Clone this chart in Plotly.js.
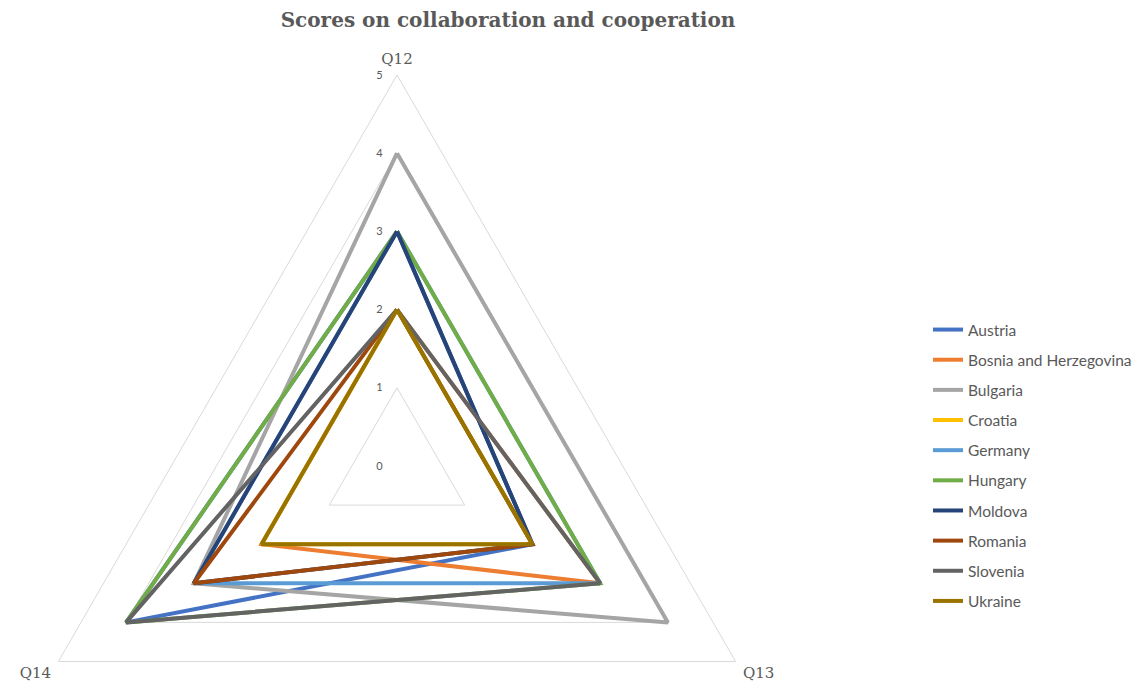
<!DOCTYPE html>
<html>
<head>
<meta charset="utf-8">
<script src="https://cdn.plot.ly/plotly-3.0.1.min.js"></script>
<style>
  html, body { margin: 0; padding: 0; background: #ffffff; overflow: hidden; }
  #chart { width: 1143px; height: 900px; }
</style>
</head>
<body>
<div id="chart"></div>
<script>
// Radar axes (questions), clockwise from the top
const questions = ['Q12', 'Q13', 'Q14'];

// Country names, in legend order
const countries = ['Austria', 'Bosnia and Herzegovina', 'Bulgaria', 'Croatia', 'Germany',
                   'Hungary', 'Moldova', 'Romania', 'Slovenia', 'Ukraine'];

// Scores per country for Q12, Q13, Q14
const austria   = [3, 2, 4];
const bosnia    = [2, 3, 2];
const bulgaria  = [4, 4, 3];
const croatia   = [2, 2, 2];
const germany   = [3, 3, 3];
const hungary   = [3, 3, 4];
const moldova   = [3, 2, 3];
const romania   = [2, 2, 3];
const slovenia  = [2, 3, 4];
const ukraine   = [2, 2, 2];

const scores = [austria, bosnia, bulgaria, croatia, germany,
                hungary, moldova, romania, slovenia, ukraine];

// Office palette
const colors = ['#4472C4', '#ED7D31', '#A5A5A5', '#FFC000', '#5B9BD5',
                '#70AD47', '#264478', '#9E480E', '#636363', '#997300'];

// Radial scale ticks
const radialTicks = [0, 1, 2, 3, 4, 5];

const FIG_W = 1143, FIG_H = 900;
const textGray = '#595959';

const traces = countries.map((name, i) => ({
  type: 'scatterpolar',
  mode: 'lines',
  name: name,
  legendgroup: name,
  r: scores[i].concat(scores[i][0]),
  theta: questions.concat(questions[0]),
  line: { color: colors[i], width: 4, shape: 'linear' },
  hoverinfo: 'name+r+theta'
}));

// polar area: a square centred on the radar centre
const cx = 397, cy = 466, R = 391;
const layout = {
  width: FIG_W,
  height: FIG_H,
  margin: { l: 0, r: 0, t: 0, b: 0 },
  paper_bgcolor: '#ffffff',
  plot_bgcolor: '#ffffff',
  showlegend: true,
  title: {
    text: '<b>Scores on collaboration and cooperation</b>',
    font: { family: 'DejaVu Serif', size: 20, color: textGray },
    x: 508 / FIG_W, xref: 'paper', xanchor: 'center',
    y: 1 - 20 / FIG_H, yref: 'paper', yanchor: 'middle'
  },
  polar: {
    domain: {
      x: [(cx - R) / FIG_W, (cx + R) / FIG_W],
      y: [1 - (cy + R) / FIG_H, 1 - (cy - R) / FIG_H]
    },
    bgcolor: '#ffffff',
    gridshape: 'linear',
    angularaxis: {
      type: 'category',
      categoryarray: questions,
      rotation: 90,
      direction: 'clockwise',
      showgrid: false,
      showline: true,
      linecolor: '#d9d9d9',
      linewidth: 1,
      ticks: 'outside',
      ticklen: 5,
      tickcolor: 'rgba(0,0,0,0)',
      tickfont: { family: 'DejaVu Serif', size: 15, color: textGray }
    },
    radialaxis: {
      range: [0, 5],
      tickvals: radialTicks,
      angle: 90,
      tickangle: 90,
      side: 'counterclockwise',
      showline: false,
      showgrid: true,
      gridcolor: '#d9d9d9',
      gridwidth: 1,
      ticks: 'outside',
      ticklen: 10,
      tickcolor: 'rgba(0,0,0,0)',
      tickfont: { family: 'Lato', size: 11, color: textGray }
    }
  },
  legend: {
    x: 928 / FIG_W, xanchor: 'left',
    y: 1 - 313 / FIG_H, yanchor: 'top',
    tracegroupgap: 7,
    font: { family: 'Lato', size: 15.5, color: textGray },
    bgcolor: 'rgba(0,0,0,0)'
  }
};

Plotly.newPlot('chart', traces, layout, { displayModeBar: false, staticPlot: true });
</script>
</body>
</html>
